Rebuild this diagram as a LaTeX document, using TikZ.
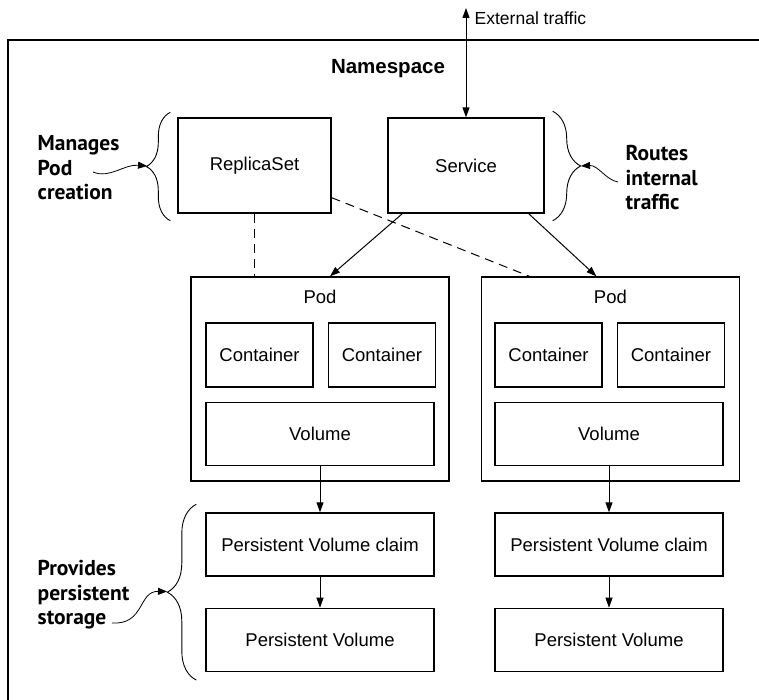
\documentclass[tikz,border=0pt]{standalone}
\usepackage{fontspec}
\setmainfont{Liberation Sans}
\newfontfamily\notefont{PT Sans}
\usetikzlibrary{positioning,arrows.meta,decorations.pathreplacing}

\begin{document}
\begin{tikzpicture}[x=1pt, y=-1pt, line width=1.4pt,
  box/.style = {draw, minimum width=228pt, minimum height=63pt, inner sep=0pt, font=\fontsize{18.5}{22}\selectfont},
  ctr/.style = {box, minimum width=107pt, minimum height=64pt},
  ctlbox/.style = {box, minimum height=95pt},
  pod/.style = {draw, minimum width=258pt, minimum height=204pt},
  podtext/.style = {inner sep=0pt, font=\fontsize{18.5}{22}\selectfont},
  note/.style = {align=left, anchor=north west, inner sep=0pt, font=\notefont\bfseries\fontsize{21.5}{24.5}\selectfont},
  flow/.style = {-{Triangle[length=10pt,width=7pt]}, line width=1pt},
  both/.style = {{Triangle[length=10pt,width=7pt]}-{Triangle[length=10pt,width=7pt]}, line width=1pt},
  hint/.style = {-{Triangle[length=9pt,width=7pt]}, line width=0.8pt},
  link/.style = {dash pattern=on 9pt off 6pt, line width=1pt},
  brc/.style = {decorate, decoration={brace, amplitude=#1}, line width=0.9pt}]
\useasboundingbox (0,0) rectangle (759,700);
\draw (759,40) -- (8,40) -- (8,700);
\node[font=\bfseries\fontsize{20.5}{24}\selectfont] (ns) at (388,69) {Namespace};
\node[ctlbox, minimum width=153pt] (rs) at (254.5,165.5) {ReplicaSet};
\node[ctlbox, minimum width=156pt] (svc) at (466,165.5) {Service};
\coordinate (ext) at (466,8);
\node[anchor=west, inner sep=0pt, font=\fontsize{17.5}{20}\selectfont] (extlbl) at (474,18) {External traffic};
\node[pod] (pod1) at (320,379) {};
\node[podtext] (podtxt1) at ([yshift=-21pt]pod1.north) {Pod};
\node[ctr] (c11) at (259.5,355) {Container};
\node[ctr] (c12) [right=14pt of c11] {Container};
\node[box] (vol1) at (320,434) {Volume};
\node[box] (pvc1) at (320,544.5) {Persistent Volume claim};
\node[box] (pv1) [below=31pt of pvc1] {Persistent Volume};
\node[pod] (pod2) [right=31pt of pod1] {};
\node[podtext] (podtxt2) at ([yshift=-21pt]pod2.north) {Pod};
\node[ctr] (c21) at (548.5,355) {Container};
\node[ctr] (c22) [right=14pt of c21] {Container};
\node[box] (vol2) at (609,434) {Volume};
\node[box] (pvc2) at (609,544.5) {Persistent Volume claim};
\node[box] (pv2) [below=31pt of pvc2] {Persistent Volume};
\draw[both] (ext) -- (svc.north);
\draw[flow] ([xshift=15pt]svc.south west) -- ([xshift=10pt]pod1.north);
\draw[flow] ([xshift=-16pt]svc.south east) -- ([xshift=-14pt]pod2.north);
\draw[link] (rs.south) -- (rs.south |- pod1.north);
\draw[link] ([yshift=16pt]rs.south east) -- ([xshift=-81pt]pod2.north);
\draw[flow] (vol1.south) -- (pvc1.north);
\draw[flow] (pvc1) -- (pv1);
\draw[flow] (vol2.south) -- (pvc2.north);
\draw[flow] (pvc2) -- (pv2);
\draw[brc=24pt] ([xshift=-7pt,yshift=-7pt]rs.south west) -- ([xshift=-7pt,yshift=5pt]rs.north west);
\draw[brc=28pt] ([xshift=8pt,yshift=6pt]svc.north east) -- ([xshift=8pt,yshift=-7pt]svc.south east);
\draw[brc=29pt] ([xshift=-9pt,yshift=-8pt]pv1.south west) -- ([xshift=-9pt,yshift=8pt]pvc1.north west);
\coordinate (rstip) at (147,166);
\coordinate (svctip) at (581,166);
\coordinate (pvtip) at (167,591.5);
\node[note] (rsnote) at (37,135) {Manages\\Pod\\creation};
\node[note] (svcnote) at (625,145) {Routes\\internal\\traffic};
\node[note] (pvnote) at (37,560) {Provides\\persistent\\storage};
\coordinate (rsfrom) at (93,172);
\coordinate (svcfrom) at (618,182);
\coordinate (pvfrom) at (112,623);
\draw[hint] (rsfrom) .. controls (110,179) and (124,164) .. (rstip);
\draw[hint] (svcfrom) .. controls (606,180) and (598,165) .. (svctip);
\draw[hint] (pvfrom) .. controls (145,625) and (138,591) .. (pvtip);
\end{tikzpicture}
\end{document}
